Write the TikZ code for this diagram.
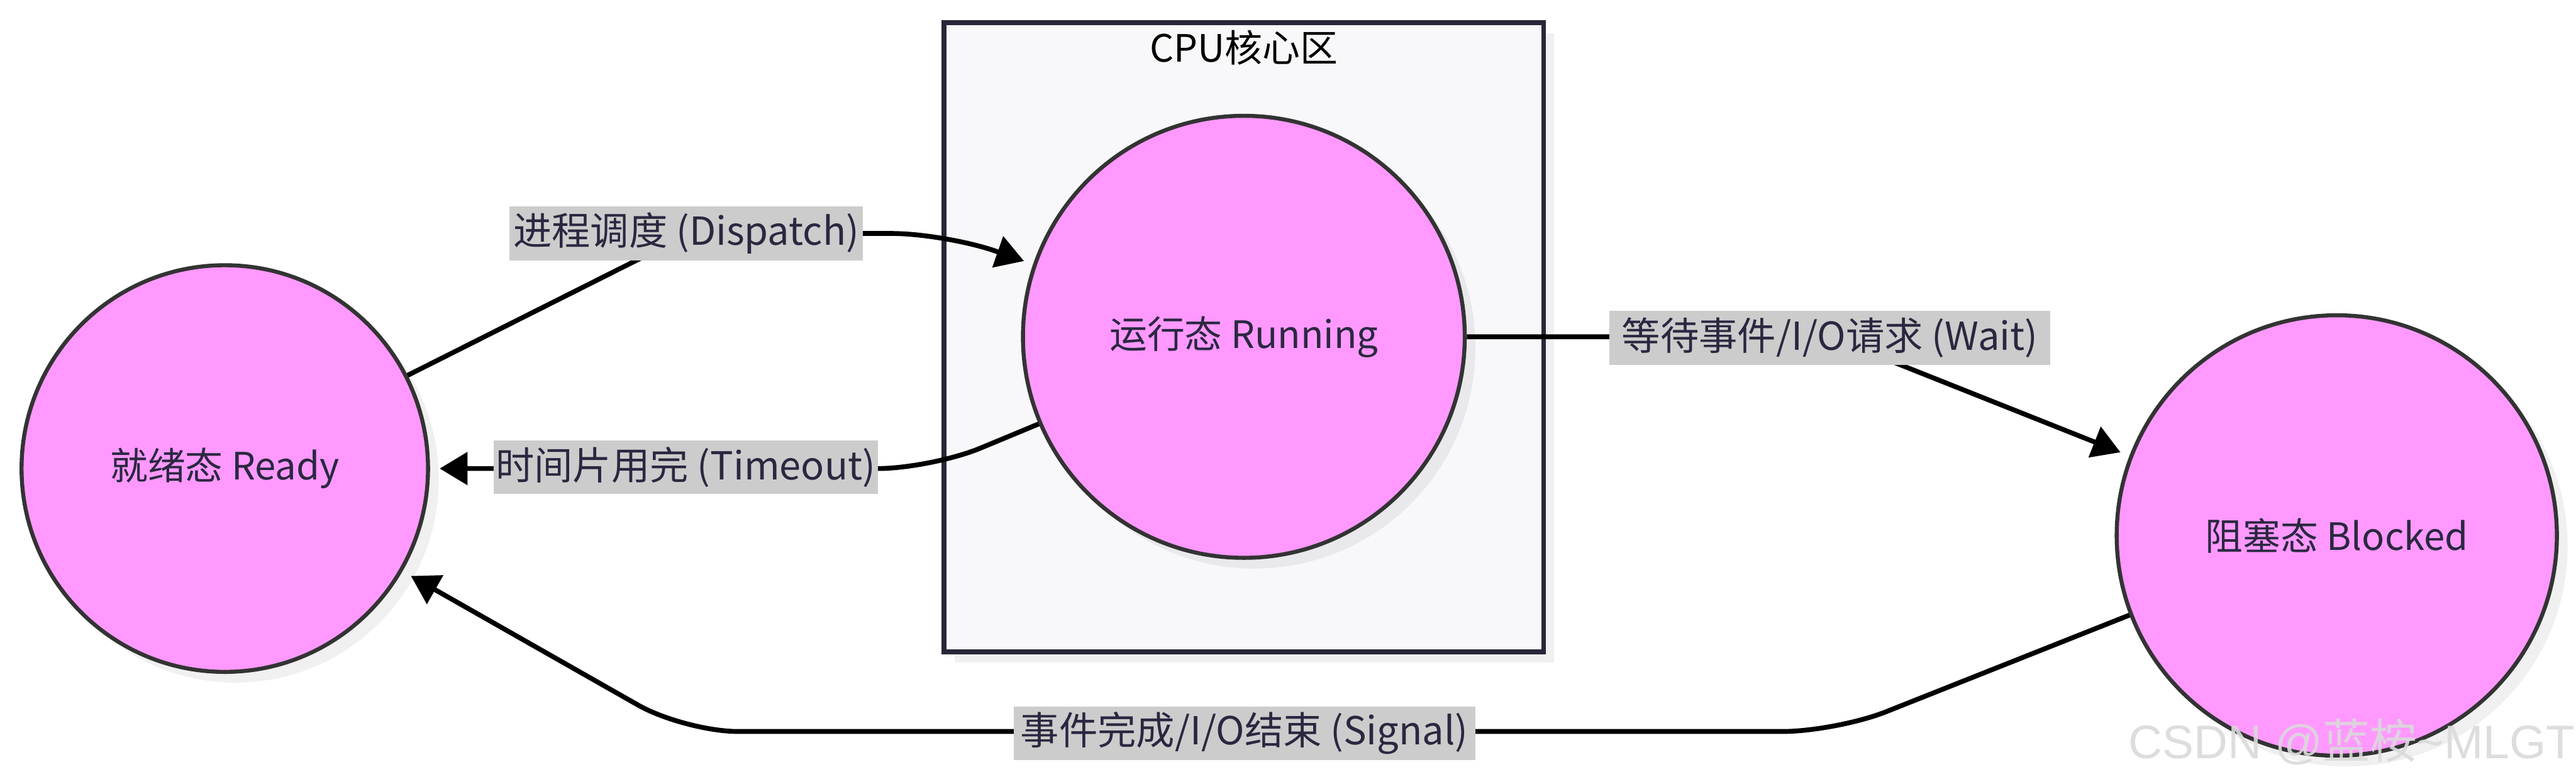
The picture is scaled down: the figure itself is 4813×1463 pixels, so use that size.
\documentclass[tikz,border=0pt]{standalone}
\usepackage{fontspec}
\newfontfamily\cjk{Noto Sans CJK SC}
\newfontfamily\wmlatin{Liberation Sans}
\usetikzlibrary{arrows.meta,shadows}
\definecolor{statefill}{HTML}{FF99FF}
\definecolor{stateline}{HTML}{333333}
\definecolor{inktext}{HTML}{2A2840}
\definecolor{zonefill}{HTML}{F8F8FA}
\definecolor{zoneline}{HTML}{272739}
\definecolor{tagfill}{HTML}{CCCCCC}
\definecolor{wmgray}{HTML}{DADADA}
\begin{document}
\begin{tikzpicture}[x=0.01cm,y=-0.01cm,
  softshadow/.style={drop shadow={shadow xshift=0.2cm,shadow yshift=-0.2cm,fill=black,opacity=0.06}},
  textfont/.style={font=\cjk\fontsize{20}{24}\selectfont},
  tagfont/.style={font=\cjk\fontsize{20.5}{24}\selectfont},
  state/.style={circle,draw=stateline,line width=0.075cm,fill=statefill,inner sep=0pt,
    text=inktext,textfont,softshadow},
  zone/.style={draw=zoneline,line width=0.09cm,fill=zonefill,softshadow},
  flow/.style={draw=black,line width=0.09cm,rounded corners=1cm},
  tip/.style={-{Triangle[length=0.52cm,width=0.6cm]},shorten >=0.18cm},
  tag/.style={fill=tagfill,text=inktext,tagfont,inner xsep=0.04cm,inner ysep=0pt,
    minimum height=1cm}]

\useasboundingbox (0,0) rectangle (4813,1463);
\fill[white] (0,0) rectangle (4813,1463);

% CPU core zone
\path[zone] (1764,42) rectangle (2884,1217);
\node[textfont,text=black] (zonetitle) at (2324,89) {CPU核心区};

% process states
\node[state,minimum size=7.59cm] (ready) at (420,875) {就绪态 Ready};
\node[state,minimum size=8.25cm] (running) at (2324,629) {运行态 Running};
\node[state,minimum size=8.22cm] (blocked) at (4366,1000) {阻塞态 Blocked};

% transitions
\draw[flow,tip] (ready.27.5) -- (1289,436) -- (1766,436) -- (running.161);
\draw[flow,tip] (running.203) -- (1740,875) -- (ready.0);
\draw[flow,tip] (running.0) -- (3419,629) -- (blocked.159);
\draw[flow,tip] (blocked.201.7) -- (3431,1366) -- (1279,1366) -- (ready.330);

% transition labels
\node[tag,minimum width=6.6cm] (lbldispatch) at (1282,436) {进程调度 (Dispatch)};
\node[tag,minimum width=7.09cm] (lbltimeout) at (1281,872) {时间片用完 (Timeout)};
\node[tag,minimum width=8.23cm] (lblwait) at (3419,631) {等待事件/I/O请求 (Wait)};
\node[tag,minimum width=8.62cm] (lblsignal) at (2325,1369) {事件完成/I/O结束 (Signal)};

% author mark
\node[text=wmgray,opacity=0.9,font=\fontsize{25}{30}\selectfont] (mark) at (4394,1386)
  {\wmlatin CSDN @\cjk 蓝桉\wmlatin\textasciitilde MLGT};
\end{tikzpicture}
\end{document}
